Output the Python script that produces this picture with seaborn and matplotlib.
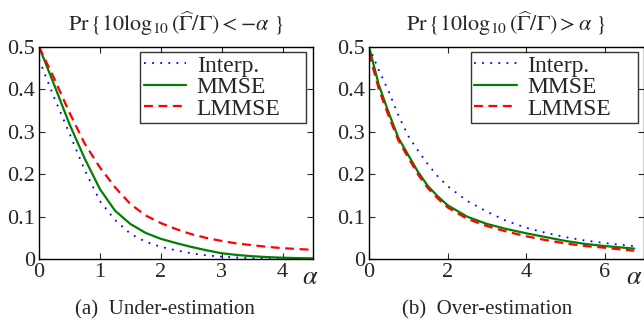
import numpy as np
import pandas as pd
import matplotlib
matplotlib.use('Agg')
import matplotlib.pyplot as plt
import seaborn as sns

# ---- data ----
# (a) under-estimation
alpha_under = [0, 0.25, 0.5, 0.75, 1, 1.25, 1.5, 1.75, 2, 2.25, 2.5, 2.75,
               3, 3.25, 3.5, 3.75, 4, 4.25, 4.5]
interp_under = [0.47, 0.38, 0.296, 0.21, 0.137, 0.092, 0.06, 0.041, 0.029, 0.021,
                0.014, 0.009, 0.006, 0.004, 0.002, 0.001, 0.0005, 0.0002, 0.0]
mmse_under = [0.5, 0.41, 0.318, 0.237, 0.165, 0.114, 0.083, 0.062, 0.048, 0.038,
              0.029, 0.021, 0.014, 0.010, 0.007, 0.005, 0.0035, 0.0025, 0.002]
lmmse_under = [0.5, 0.425, 0.345, 0.272, 0.216, 0.169, 0.13, 0.103, 0.085, 0.071,
               0.059, 0.05, 0.043, 0.037, 0.033, 0.029, 0.026, 0.024, 0.022]

# (b) over-estimation
alpha_over = [0, 0.25, 0.5, 0.75, 1, 1.25, 1.5, 1.75, 2, 2.5, 3, 3.5, 4, 4.5,
              5, 5.5, 6, 6.5, 6.75]
interp_over = [0.5, 0.445, 0.395, 0.338, 0.29, 0.255, 0.223, 0.195, 0.172, 0.137,
               0.112, 0.09, 0.074, 0.062, 0.052, 0.044, 0.038, 0.033, 0.031]
mmse_over = [0.5, 0.41, 0.345, 0.285, 0.245, 0.205, 0.172, 0.148, 0.127, 0.1,
             0.083, 0.071, 0.061, 0.052, 0.043, 0.036, 0.031, 0.027, 0.025]
lmmse_over = [0.485, 0.40, 0.337, 0.279, 0.239, 0.199, 0.167, 0.143, 0.122, 0.095,
              0.078, 0.065, 0.054, 0.045, 0.037, 0.031, 0.027, 0.022, 0.020]

series_names = ['Interp.', 'MMSE', 'LMMSE']
titles = [r'$\Pr\{10\log_{10}(\widehat{\Gamma}/\Gamma) < -\alpha\ \}$',
          r'$\Pr\{10\log_{10}(\widehat{\Gamma}/\Gamma) > \alpha\ \}$']
captions = ['(a)  Under-estimation', '(b)  Over-estimation']
xticks = [[0, 1, 2, 3, 4], [0, 2, 4, 6]]
xmax = [4.5, 7]
yticks = [0, 0.1, 0.2, 0.3, 0.4, 0.5]
ytick_labels = ['0', '0.1', '0.2', '0.3', '0.4', '0.5']

sns.set_style('ticks')
plt.rcParams['font.family'] = ['Liberation Serif', 'DejaVu Serif']
plt.rcParams['mathtext.fontset'] = 'stix'

styles = {
    'Interp.': dict(color='#0000ff', linestyle=(0, (1, 3.5)), linewidth=1.3),
    'MMSE': dict(color='#008000', linestyle='-', linewidth=1.6),
    'LMMSE': dict(color='#ff0000', linestyle=(0, (4, 2.5)), linewidth=1.6),
}

fig = plt.figure(figsize=(6.44, 3.22), dpi=100)
# right panel runs up to the image edge, as in the original (cropped) figure
ax1 = fig.add_axes([39 / 644, 0.195, 274 / 644, 0.66])
ax2 = fig.add_axes([369 / 644, 0.195, 275 / 644, 0.66])

panels = [
    (ax1, alpha_under, [interp_under, mmse_under, lmmse_under]),
    (ax2, alpha_over, [interp_over, mmse_over, lmmse_over]),
]
legend_x0 = [0.3686, 0.37]
alpha_x = [0.991, 0.965]
caption_x = [0.46, 0.43]

for i, (ax, x, ys) in enumerate(panels):
    for name, y in zip(series_names, ys):
        df = pd.DataFrame({'alpha': x, 'prob': y})
        sns.lineplot(data=df, x='alpha', y='prob', ax=ax, label=name,
                     **styles[name])
    ax.set_xlim(0, xmax[i])
    ax.set_ylim(0, 0.5)
    ax.set_xticks(xticks[i])
    ax.set_xticklabels([str(t) for t in xticks[i]])
    ax.set_yticks(yticks)
    ax.set_yticklabels(ytick_labels)
    ax.set_xlabel('')
    ax.set_ylabel('')
    ax.tick_params(direction='in', top=True, right=True, length=4,
                   width=0.8, labelsize=16, pad=3)
    for sp in ax.spines.values():
        sp.set_linewidth(1.0)
        sp.set_color('black')
    ax.set_title(titles[i], fontsize=16, pad=11)
    ax.text(alpha_x[i], -0.09, r'$\alpha$', transform=ax.transAxes, fontsize=19,
            ha='center', va='center', clip_on=False)
    ax.text(caption_x[i], -0.24, captions[i], transform=ax.transAxes,
            fontsize=15, ha='center', va='center')
    leg = ax.legend(loc='upper left', bbox_to_anchor=(legend_x0[i], 0.64, 0.607, 0.337),
                    mode='expand', fontsize=17, frameon=True, fancybox=False,
                    borderaxespad=0, handlelength=1.8, handletextpad=0.45,
                    labelspacing=0.0, borderpad=0.15)
    leg.get_frame().set_edgecolor('black')
    leg.get_frame().set_linewidth(1.0)

fig.savefig('out.png', dpi=100)
